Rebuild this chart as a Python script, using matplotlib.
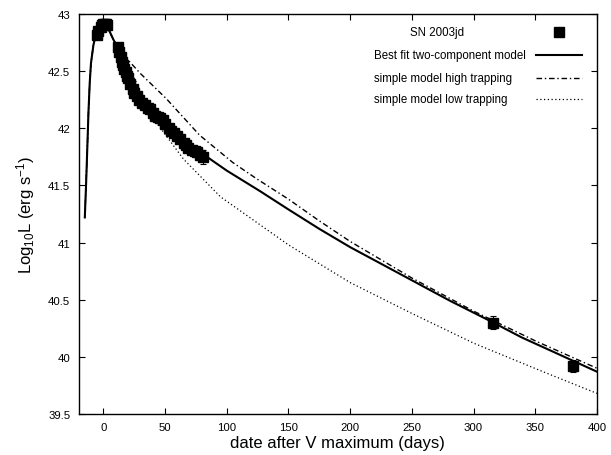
import matplotlib
matplotlib.use("Agg")
import matplotlib.pyplot as plt

plt.rcParams['font.family'] = ['Liberation Sans', 'DejaVu Sans']
plt.rcParams['mathtext.default'] = 'regular'

obs_day = [-5, -4, -2, -1, 0, 1, 2, 3,
           12, 13, 14, 15, 16, 17, 18, 19, 20, 22, 24, 25, 27, 29, 31, 34,
           36, 38, 40, 42, 44, 46, 48, 50, 53, 55, 57, 60, 62, 65, 67, 69,
           72, 74, 76, 78, 81, 316, 381]
obs_logL = [42.82, 42.85, 42.89, 42.90, 42.91, 42.91, 42.91, 42.90,
            42.71, 42.67, 42.62, 42.58, 42.55, 42.52, 42.49, 42.46, 42.44,
            42.39, 42.34, 42.31, 42.28, 42.25, 42.22, 42.20, 42.18, 42.17,
            42.13, 42.11, 42.10, 42.09, 42.07, 42.04, 42.00, 41.98, 41.96,
            41.93, 41.91, 41.87, 41.85, 41.83, 41.81, 41.80, 41.79, 41.77,
            41.75, 40.30, 39.92]
obs_err = [0.03] * 44 + [0.06, 0.055, 0.055]

# model curves
best_day = [-15, -14, -13, -12, -11, -10, -8, -6, -4, -2, 0, 2, 5, 8, 12,
            15, 19, 24, 30, 38, 42, 49, 55, 62, 69, 76, 84, 100, 127, 150,
            175, 200, 250, 281, 316, 339, 400]
best_logL = [41.22, 41.50, 41.82, 42.15, 42.40, 42.57, 42.73, 42.82, 42.87,
             42.91, 42.93, 42.92, 42.85, 42.78, 42.70, 42.60, 42.47, 42.35,
             42.24, 42.16, 42.11, 42.06, 41.98, 41.91, 41.84, 41.79, 41.75,
             41.63, 41.45, 41.29, 41.12, 40.96, 40.67, 40.49, 40.30, 40.17,
             39.87]

high_day = [-15, -14, -13, -12, -11, -10, -8, -6, -4, -2, 0, 2, 5, 8, 12,
            19, 30, 51, 78, 105, 124, 150, 175, 200, 250, 300, 350, 400]
high_logL = [41.22, 41.50, 41.82, 42.15, 42.40, 42.57, 42.73, 42.82, 42.87,
             42.91, 42.93, 42.92, 42.85, 42.78, 42.70, 42.61, 42.48, 42.26,
             41.94, 41.70, 41.56, 41.38, 41.19, 41.01, 40.69, 40.40, 40.14,
             39.90]

low_day = [-15, -14, -13, -12, -11, -10, -8, -6, -4, -2, 0, 2, 5, 8, 12,
           17, 20, 30, 43, 65, 95, 150, 200, 250, 300, 354, 400]
low_logL = [41.22, 41.50, 41.82, 42.15, 42.40, 42.57, 42.73, 42.82, 42.87,
            42.91, 42.93, 42.92, 42.85, 42.78, 42.70, 42.62, 42.55, 42.33,
            42.05, 41.73, 41.40, 40.98, 40.65, 40.38, 40.12, 39.88, 39.68]

fig = plt.figure(figsize=(6.11, 4.56), dpi=100)
ax = fig.add_axes([0.1287, 0.09, 0.8483, 0.877])

ax.plot(best_day, best_logL, color='black', lw=1.5)
ax.plot(high_day, high_logL, color='black', lw=1.0, dashes=(4, 2, 1, 2))
ax.plot(low_day, low_logL, color='black', lw=0.9, dashes=(1, 2))
ax.errorbar(obs_day, obs_logL, yerr=obs_err, fmt='none', ecolor='black',
            elinewidth=0.8, capsize=2.5, capthick=0.8)
ax.plot(obs_day, obs_logL, ls='none', marker='s', ms=6.5, color='black')

# gnuplot style key: text left aligned, sample on the right
key_rows = [0.954, 0.8975, 0.84, 0.7875]
key_text_x = 0.570
key_x0, key_x1 = 0.8824, 0.9711
ax.text(0.639, key_rows[0], 'SN 2003jd', transform=ax.transAxes,
        fontsize=8.3, va='center', ha='left')
ax.plot([(key_x0 + key_x1) / 2], [key_rows[0]], transform=ax.transAxes,
        ls='none', marker='s', ms=6.5, color='black', clip_on=False)
key_labels = ['Best fit two-component model', 'simple model high trapping',
              'simple model low trapping']
key_styles = [dict(lw=1.5), dict(lw=1.0, dashes=(4, 2, 1, 2)),
              dict(lw=0.9, dashes=(1, 2))]
for yk, lab, st in zip(key_rows[1:], key_labels, key_styles):
    ax.text(key_text_x, yk, lab, transform=ax.transAxes, fontsize=8.3,
            va='center', ha='left')
    ax.plot([key_x0, key_x1], [yk, yk], transform=ax.transAxes,
            color='black', **st)

ax.set_xlim(-20, 400)
ax.set_ylim(39.5, 43)
ax.set_xticks([0, 50, 100, 150, 200, 250, 300, 350, 400])
ax.set_yticks([39.5, 40, 40.5, 41, 41.5, 42, 42.5, 43])
ax.set_yticklabels(['39.5', '40', '40.5', '41', '41.5', '42', '42.5', '43'])
ax.tick_params(direction='in', length=4, width=0.8, top=True, right=True,
               labelsize=8.2, pad=6)
for s in ax.spines.values():
    s.set_linewidth(1.0)

ax.set_xlabel('date after V maximum (days)', fontsize=12, labelpad=2)
ax.set_ylabel(r'Log$_{10}$L (erg s$^{-1}$)', fontsize=12, labelpad=8)

fig.savefig('out.png', dpi=100)
